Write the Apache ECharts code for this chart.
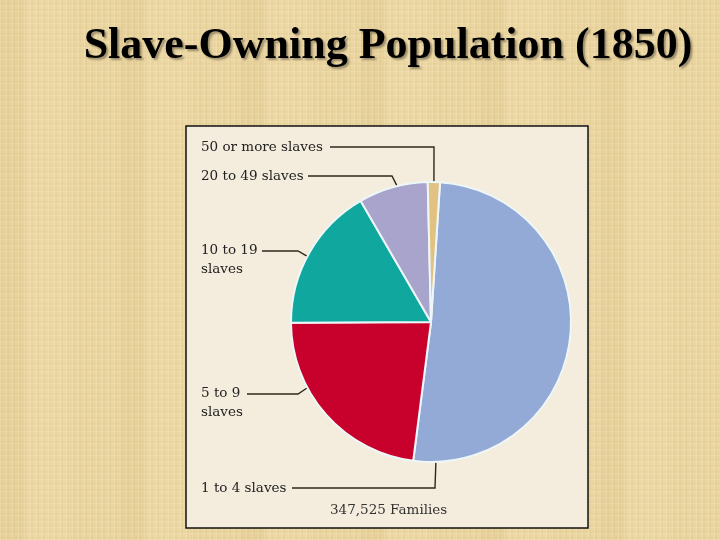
<!DOCTYPE html>
<html>
<head>
<meta charset="utf-8">
<script src="https://cdn.jsdelivr.net/npm/echarts@6/dist/echarts.min.js"></script>
<style>
  html, body { margin: 0; padding: 0; }
  body {
    width: 720px; height: 540px; overflow: hidden;
    background-color: #ebd6a1;
    background-image:
      repeating-linear-gradient(90deg, rgba(255,245,215,0.18) 0 1px, rgba(200,170,100,0.10) 1px 3px, rgba(255,245,215,0) 3px 6px),
      repeating-linear-gradient(0deg, rgba(255,245,215,0.16) 0 1px, rgba(200,170,100,0.08) 1px 3px, rgba(255,245,215,0) 3px 6px),
      repeating-linear-gradient(90deg, rgba(190,160,90,0.08) 0 25px, rgba(255,240,200,0.10) 25px 70px, rgba(190,160,90,0) 70px 120px);
  }
  #chart { width: 720px; height: 540px; }
</style>
</head>
<body>
<div id="chart"></div>
<script>
// shares of the 347,525 slave-owning families (%)
const categories = ['1 to 4 slaves', '5 to 9\nslaves', '10 to 19\nslaves', '20 to 49 slaves', '50 or more slaves']
const shares = [51.0, 22.9, 16.7, 8.0, 1.4]
const colors = ['#93aad6', '#c8002c', '#10a89e', '#a8a4cc', '#e2c282']

const cx = 431, cy = 322, r = 140

// where each label sits and where its leader line bends
// anchor: angle (deg, clockwise from top) where the line touches the pie
const labelPos = [
  { x: 201, y: 488, anchor: 178, bend: [435, 488], end: [292, 488] },
  { x: 201, y: 403, anchor: 242, bend: [298, 394], end: [247, 394] },
  { x: 201, y: 260, anchor: 298, bend: [298, 251], end: [262, 251] },
  { x: 201, y: 176, anchor: 346, bend: [392, 176], end: [308, 176] },
  { x: 201, y: 147, anchor: 1.2, bend: [434, 147], end: [330, 147] }
]

function onArc(deg) {
  const a = deg * Math.PI / 180
  return [cx + r * Math.sin(a), cy - r * Math.cos(a)]
}

const chart = echarts.init(document.getElementById('chart'))

chart.setOption({
  backgroundColor: 'transparent',
  title: {
    text: 'Slave-Owning Population (1850)',
    left: 383,
    textAlign: 'center',
    top: 20,
    textStyle: {
      fontFamily: 'Liberation Serif',
      fontWeight: 'bold',
      fontSize: 44,
      color: '#000',
      textShadowColor: 'rgba(90,80,60,0.55)',
      textShadowOffsetX: 2,
      textShadowOffsetY: 2,
      textShadowBlur: 2
    }
  },
  graphic: [
    {
      type: 'rect',
      z: -10,
      shape: { x: 186, y: 126, width: 402, height: 402 },
      style: { fill: '#f4ecdd', stroke: '#111', lineWidth: 1.5 }
    },
    {
      type: 'text',
      left: 330,
      top: 503,
      style: {
        text: '347,525 Families',
        font: '13.5px "DejaVu Serif"',
        fill: '#333'
      }
    }
  ],
  series: [
    {
      type: 'pie',
      center: [cx, cy],
      radius: r,
      startAngle: 86.3,
      clockwise: true,
      silent: true,
      itemStyle: { borderColor: '#eef7f8', borderWidth: 2 },
      data: categories.map((name, i) => ({
        name: name,
        value: shares[i],
        itemStyle: { color: colors[i] }
      })),
      label: {
        show: true,
        formatter: '{b}',
        fontFamily: 'DejaVu Serif',
        fontSize: 13.5,
        lineHeight: 19,
        color: '#222'
      },
      labelLine: {
        show: true,
        lineStyle: { color: '#2e271c', width: 1.4 }
      },
      labelLayout(params) {
        const p = labelPos[params.dataIndex]
        return {
          x: p.x,
          y: p.y,
          align: 'left',
          verticalAlign: 'middle',
          labelLinePoints: [onArc(p.anchor), p.bend, p.end]
        }
      }
    }
  ]
})
</script>
</body>
</html>
